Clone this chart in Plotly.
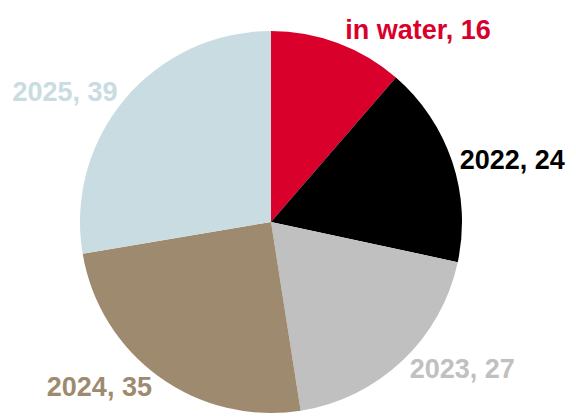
import plotly.graph_objects as go

labels = ["in water", "2022", "2023", "2024", "2025"]
values = [16, 24, 27, 35, 39]
colors = ["#d9002b", "#000000", "#c0c0c0", "#9e8a6e", "#c9dce2"]

fig = go.Figure(go.Pie(
    labels=labels,
    values=values,
    sort=False,
    direction="clockwise",
    rotation=0,
    marker=dict(colors=colors, line=dict(width=0)),
    textposition="outside",
    texttemplate="%{label}, %{value}",
    textfont=dict(family="Liberation Sans, Arial, sans-serif", size=27, color=colors, weight="bold"),
    showlegend=False,
    hoverinfo="label+value",
))
fig.update_layout(
    width=576, height=419,
    margin=dict(l=70, r=122, t=22, b=13),
    paper_bgcolor="white",
    plot_bgcolor="white",
)
fig.write_html("out.html")
